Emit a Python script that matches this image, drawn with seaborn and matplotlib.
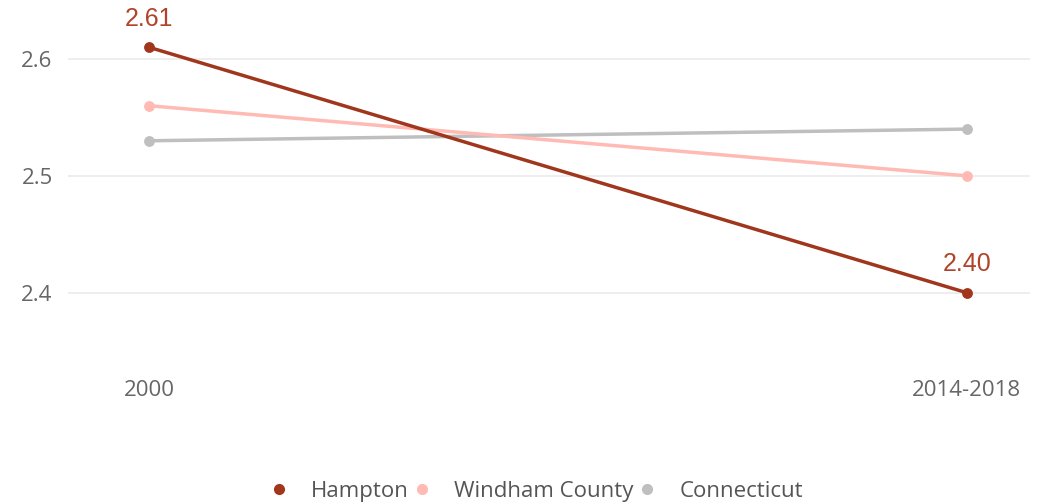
import seaborn as sns
import matplotlib.pyplot as plt
import pandas as pd
from matplotlib.lines import Line2D

# --- DATA ---
periods = ['2000', '2014-2018']
places = ['Hampton', 'Windham County', 'Connecticut']
hampton = [2.61, 2.40]
windham = [2.56, 2.50]
connecticut = [2.53, 2.54]
colors = {'Hampton': '#a0361c', 'Windham County': '#ffbab3', 'Connecticut': '#bfbfbf'}

df = pd.DataFrame({
    'period': periods * 3,
    'place': ['Hampton'] * 2 + ['Windham County'] * 2 + ['Connecticut'] * 2,
    'value': hampton + windham + connecticut,
})

sns.set_style('white')
plt.rcParams['font.family'] = ['Open Sans', 'DejaVu Sans']

fig = plt.figure(figsize=(10.53, 5.04), dpi=100)
ax = fig.add_axes([0.0646, 0.280, 0.9134, 0.719])

# draw Connecticut first so Hampton sits on top
for place in places[::-1]:
    sub = df[df['place'] == place]
    sns.lineplot(data=sub, x='period', y='value', color=colors[place],
                 marker='o', markersize=7.8, markeredgewidth=0,
                 linewidth=2.5, ax=ax, legend=False, sort=False)

ax.set_xlim(-0.099, 1.077)
ax.set_ylim(2.34, 2.65)
ax.set_yticks([2.4, 2.5, 2.6])
ax.set_yticklabels(['2.4', '2.5', '2.6'])
ax.yaxis.grid(True, color='#ebebeb', linewidth=1.2)
ax.set_axisbelow(True)
for s in ax.spines.values():
    s.set_visible(False)
ax.tick_params(axis='both', length=0, colors='#666666', labelsize=16)
ax.tick_params(axis='x', pad=12)
ax.tick_params(axis='y', pad=11)
ax.set_xlabel('')
ax.set_ylabel('')

# value labels for Hampton
for i, v in enumerate(hampton):
    ax.annotate(f'{v:.2f}', (i, v), xytext=(0, 12), textcoords='offset points',
                ha='center', va='bottom', color='#b0432a', fontsize=18,
                family='Liberation Sans')

handles = [Line2D([], [], marker='o', linestyle='', color=colors[p],
                  markersize=8, markeredgewidth=0) for p in places]
fig.legend(handles, places, loc='center', bbox_to_anchor=(0.503, 0.025), ncol=3,
           frameon=False, fontsize=16, handletextpad=0.45, columnspacing=-0.4,
           labelcolor='#555555')

plt.savefig('out.png', dpi=100)
